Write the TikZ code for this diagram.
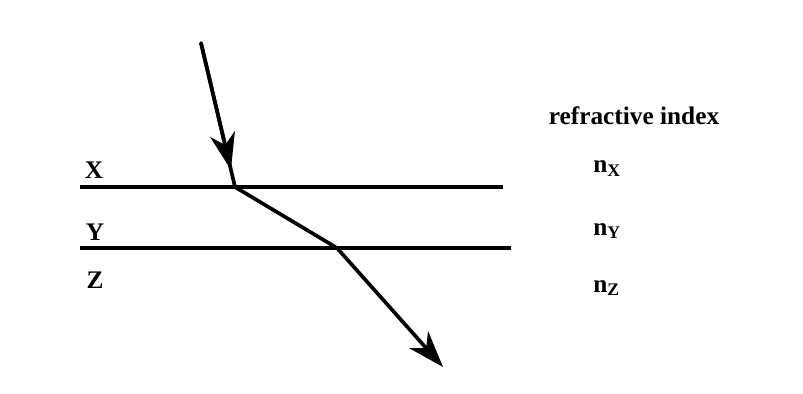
\documentclass[tikz,border=0pt]{standalone}
\usepackage{fontspec}
\setmainfont{Liberation Serif}
\usepackage{tikz}
\usetikzlibrary{positioning, arrows.meta, calc}

\begin{document}
\begin{tikzpicture}[
    x=0.025cm, y=-0.025cm,
    boundary/.style={line width=2.2pt},
    ray/.style={line width=2.6pt},
    arr/.style={ray, -{Stealth[length=26pt, width=18pt, inset=8pt]}},
    lbl/.style={font=\fontsize{18}{20}\selectfont\bfseries, inner sep=0pt}
]
\useasboundingbox (0,0) rectangle (803,394);

% interfaces between the media
\coordinate (xL) at (80,187);
\coordinate (xR) at (503,187);
\coordinate (yL) at (80,248);
\coordinate (yR) at (511,248);
\draw[boundary] (xL) -- (xR);
\draw[boundary] (yL) -- (yR);

% light path
\coordinate (src) at (201,43);
\coordinate (hitX) at (235,187);
\coordinate (hitY) at (337,248);
\coordinate (dst) at (443,367);
\coordinate (tipA) at ($(src)!0.88!(hitX)$);
\draw[ray, line cap=round] (src) -- (hitX) -- (hitY);
\draw[arr] (src) -- (tipA);
\draw[arr] (hitY) -- (dst);

% media labels
\node[lbl] (labX) at (94,170) {X};
\node[lbl] (labY) at (95,232) {Y};
\node[lbl] (labZ) at (95,280) {Z};

% refractive indices
\node[lbl, anchor=base] (title) at (634,124) {refractive index};
\node[lbl, anchor=base west] (nX) at (593,173) {n\textsubscript{X}};
\node[lbl, anchor=base west] (nY) at (593,235) {n\textsubscript{Y}};
\node[lbl, anchor=base west] (nZ) at (593,292) {n\textsubscript{Z}};
\end{tikzpicture}
\end{document}
